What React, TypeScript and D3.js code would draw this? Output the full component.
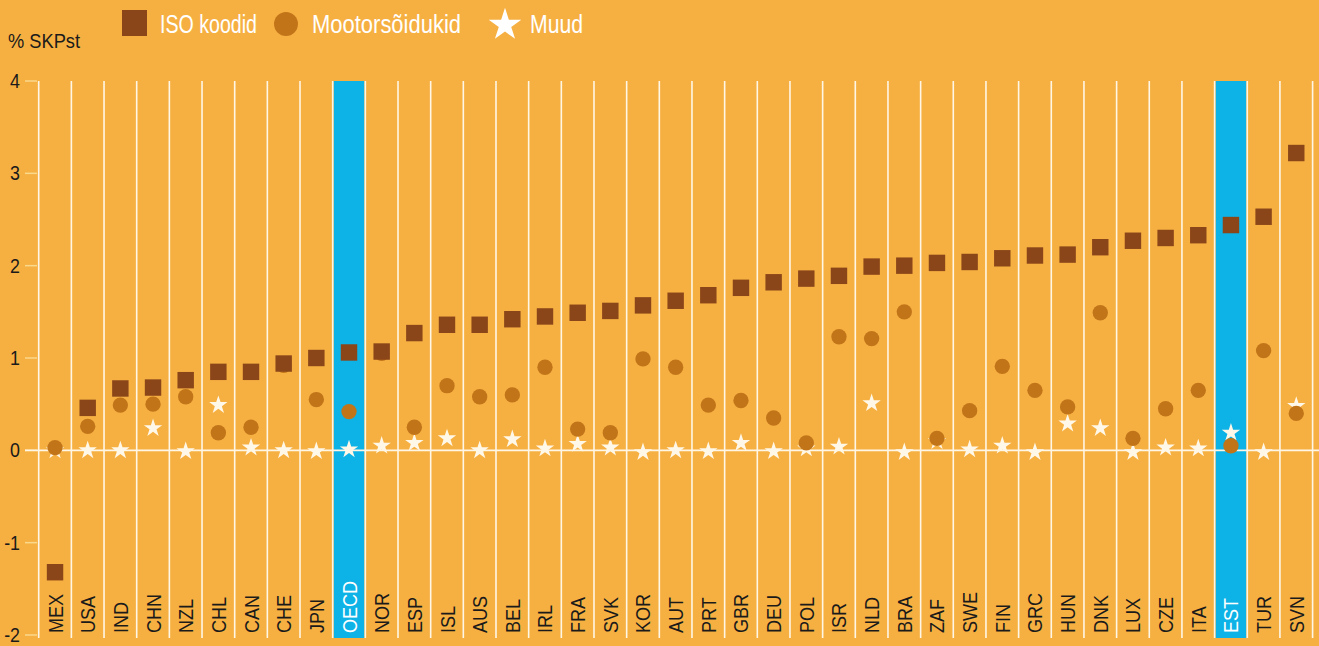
import React, { useEffect, useRef } from 'react';
import * as d3 from 'd3';

const countries = ['MEX', 'USA', 'IND', 'CHN', 'NZL', 'CHL', 'CAN', 'CHE', 'JPN', 'OECD', 'NOR', 'ESP', 'ISL', 'AUS', 'BEL', 'IRL', 'FRA', 'SVK', 'KOR', 'AUT', 'PRT', 'GBR', 'DEU', 'POL', 'ISR', 'NLD', 'BRA', 'ZAF', 'SWE', 'FIN', 'GRC', 'HUN', 'DNK', 'LUX', 'CZE', 'ITA', 'EST', 'TUR', 'SVN'];

const isoValues = [-1.32, 0.46, 0.67, 0.68, 0.76, 0.85, 0.85, 0.94, 1.0, 1.06, 1.07, 1.27, 1.36, 1.36, 1.42, 1.45, 1.49, 1.51, 1.57, 1.62, 1.68, 1.76, 1.82, 1.86, 1.89, 1.99, 2.0, 2.03, 2.04, 2.08, 2.11, 2.12, 2.2, 2.27, 2.3, 2.33, 2.44, 2.53, 3.22];

const motorValues = [0.03, 0.26, 0.49, 0.5, 0.58, 0.19, 0.25, 0.92, 0.55, 0.42, 1.05, 0.25, 0.7, 0.58, 0.6, 0.9, 0.23, 0.19, 0.99, 0.9, 0.49, 0.54, 0.35, 0.08, 1.23, 1.21, 1.5, 0.13, 0.43, 0.91, 0.65, 0.47, 1.49, 0.13, 0.45, 0.65, 0.05, 1.08, 0.4];

const otherValues = [0.0, 0.0, 0.0, 0.24, -0.01, 0.49, 0.03, 0.0, -0.01, 0.01, 0.05, 0.08, 0.13, 0.0, 0.12, 0.02, 0.07, 0.03, -0.02, 0.0, -0.01, 0.08, -0.01, 0.02, 0.04, 0.51, -0.02, 0.1, 0.01, 0.05, -0.02, 0.29, 0.24, -0.02, 0.03, 0.02, 0.19, -0.02, 0.48];

const highlighted = ['OECD', 'EST'];
const yTicks = [4, 3, 2, 1, 0, -1, -2];

const BG = '#f6b042';
const BLUE = '#0db2e6';
const SQUARE = '#8a4519';
const CIRCLE = '#c27419';
const STAR = '#fff8e8';
const FONT = "'Liberation Sans', Arial, sans-serif";

const App = () => {
  const svgRef = useRef(null);

  useEffect(() => {
    const width = 1319;
    const height = 646;
    const svg = d3.select(svgRef.current)
      .attr('width', width)
      .attr('height', height);

    svg.selectAll('*').remove();

    svg.append('rect')
      .attr('width', width)
      .attr('height', height)
      .attr('fill', BG);

    const x = d3.scaleBand()
      .domain(countries)
      .range([38.7, 1312.6])
      .padding(0);

    const y = d3.scaleLinear()
      .domain([-2, 4])
      .range([635, 81]);

    const plotBottom = 638;
    const bw = x.bandwidth();

    // highlighted columns
    svg.append('g')
      .selectAll('rect')
      .data(highlighted)
      .enter()
      .append('rect')
      .attr('x', d => x(d) + 1)
      .attr('y', y(4))
      .attr('width', bw - 2)
      .attr('height', plotBottom - y(4))
      .attr('fill', BLUE);

    // column separators
    const bounds = countries.map(c => x(c)).concat([x(countries[countries.length - 1]) + bw]);
    svg.append('g')
      .selectAll('line')
      .data(bounds)
      .enter()
      .append('line')
      .attr('x1', d => d)
      .attr('x2', d => d)
      .attr('y1', y(4))
      .attr('y2', plotBottom)
      .attr('stroke', '#fff6e6')
      .attr('stroke-width', 1.6);

    // y ticks
    const yAxis = svg.append('g');
    yAxis.selectAll('line')
      .data(yTicks)
      .enter()
      .append('line')
      .attr('x1', 25)
      .attr('x2', 37)
      .attr('y1', d => y(d))
      .attr('y2', d => y(d))
      .attr('stroke', '#fbd98c')
      .attr('stroke-width', 1.5);
    yAxis.selectAll('text')
      .data(yTicks)
      .enter()
      .append('text')
      .attr('transform', d => `translate(20,${y(d) + 7}) scale(0.85,1)`)
      .attr('text-anchor', 'end')
      .style('font-family', FONT)
      .style('font-size', '21px')
      .style('fill', '#1a1a1a')
      .text(d => d);

    // zero line
    svg.append('line')
      .attr('x1', 25)
      .attr('x2', width)
      .attr('y1', y(0))
      .attr('y2', y(0))
      .attr('stroke', '#fff6e6')
      .attr('stroke-width', 1.6);

    // country labels
    svg.append('g')
      .selectAll('text')
      .data(countries)
      .enter()
      .append('text')
      .attr('transform', d => `translate(${x(d) + bw / 2 + 7.5},633) rotate(-90) scale(0.86,1)`)
      .attr('text-anchor', 'start')
      .style('font-family', FONT)
      .style('font-size', '21px')
      .style('fill', d => highlighted.includes(d) ? '#ffffff' : '#1a1a1a')
      .text(d => d);

    const cx = i => x(countries[i]) + bw / 2;

    const star = d3.symbol().type(d3.symbolStar).size(105);
    const circle = d3.symbol().type(d3.symbolCircle).size(185);
    const square = d3.symbol().type(d3.symbolSquare).size(270);

    svg.append('g')
      .selectAll('path')
      .data(otherValues)
      .enter()
      .append('path')
      .attr('d', star)
      .attr('transform', (d, i) => `translate(${cx(i)},${y(d)})`)
      .attr('fill', STAR);

    svg.append('g')
      .selectAll('path')
      .data(motorValues)
      .enter()
      .append('path')
      .attr('d', circle)
      .attr('transform', (d, i) => `translate(${cx(i)},${y(d)})`)
      .attr('fill', CIRCLE);

    svg.append('g')
      .selectAll('path')
      .data(isoValues)
      .enter()
      .append('path')
      .attr('d', square)
      .attr('transform', (d, i) => `translate(${cx(i)},${y(d)})`)
      .attr('fill', SQUARE);

    // y axis title
    svg.append('text')
      .attr('x', 8)
      .attr('y', 48)
      .attr('textLength', 72)
      .attr('lengthAdjust', 'spacingAndGlyphs')
      .style('font-family', FONT)
      .style('font-size', '21px')
      .style('fill', '#1a1a1a')
      .text('% SKPst');

    // legend
    const legend = svg.append('g');
    legend.append('rect')
      .attr('x', 122)
      .attr('y', 10)
      .attr('width', 25)
      .attr('height', 26)
      .attr('fill', SQUARE);
    legend.append('path')
      .attr('d', d3.symbol().type(d3.symbolCircle).size(450)())
      .attr('transform', 'translate(286,24)')
      .attr('fill', CIRCLE);
    legend.append('path')
      .attr('d', d3.symbol().type(d3.symbolStar).size(330)())
      .attr('transform', 'translate(505,25)')
      .attr('fill', '#ffffff');

    const legendItems = [
      { label: 'ISO koodid', x: 160, w: 97 },
      { label: 'Mootorsõidukid', x: 312, w: 149 },
      { label: 'Muud', x: 530, w: 53 },
    ];
    legend.selectAll('text.lbl')
      .data(legendItems)
      .enter()
      .append('text')
      .attr('class', 'lbl')
      .attr('x', d => d.x)
      .attr('y', 33)
      .attr('textLength', d => d.w)
      .attr('lengthAdjust', 'spacingAndGlyphs')
      .style('font-family', FONT)
      .style('font-size', '25px')
      .style('fill', '#ffffff')
      .text(d => d.label);
  }, []);

  return <svg ref={svgRef} style={{ position: 'absolute', left: 0, top: 0 }}></svg>;
};

export default App;
